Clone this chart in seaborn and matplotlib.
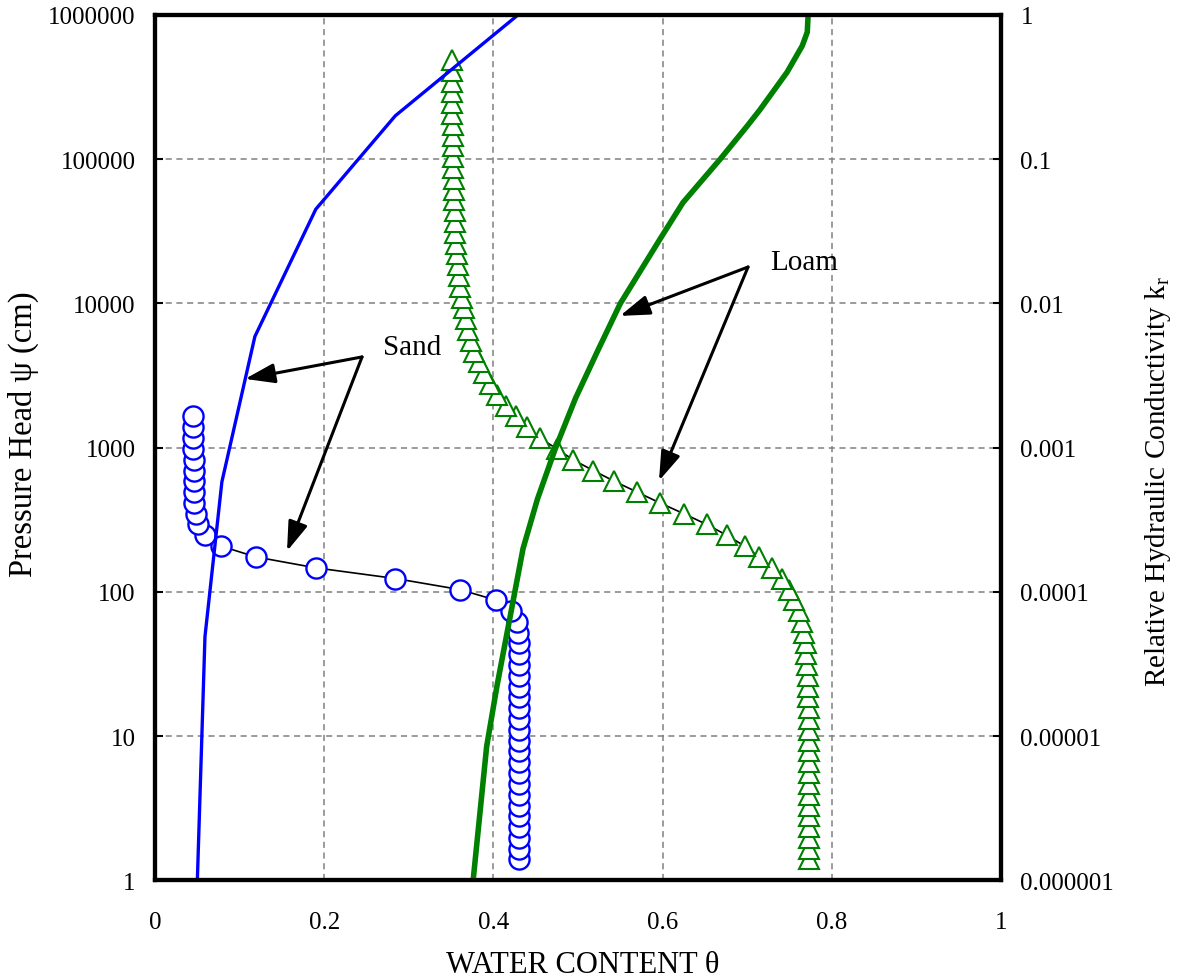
import matplotlib
matplotlib.use("Agg")
import matplotlib.pyplot as plt
from matplotlib.ticker import FixedLocator, FixedFormatter, NullLocator
import seaborn as sns

# -----------------------------
# Data
# -----------------------------

# pressure head steps (cm) shared by the measured retention points
psi_steps = [1.40, 1.66, 1.98, 2.35, 2.79, 3.31, 3.94, 4.68, 5.56, 6.60,
             7.85, 9.32, 11.1, 13.2, 15.6, 18.6, 22.1, 26.2, 31.2, 37.1,
             44.0, 52.3, 62.2, 73.9, 87.8, 104, 124, 147, 175, 208,
             247, 294, 349, 414, 492, 585, 695, 826, 982, 1166,
             1386, 1647, 1956, 2325, 2762, 3282, 3900, 4634, 5507, 6543,
             7775, 9239, 10980, 13050, 15500, 18420, 21890, 26000, 30900, 36720,
             43630, 51840, 61600, 73200, 86980, 103300, 122800, 145900, 173400, 206000,
             244800, 290900, 345600, 410700, 488000]

# sand retention (circles), one value per step, first 42 steps
theta_sand = [0.430, 0.430, 0.430, 0.430, 0.430, 0.430, 0.430, 0.430, 0.430, 0.430,
              0.430, 0.430, 0.430, 0.430, 0.430, 0.430, 0.430, 0.430, 0.430, 0.430,
              0.430, 0.429, 0.428, 0.421, 0.403, 0.360, 0.284, 0.190, 0.119, 0.078,
              0.059, 0.051, 0.048, 0.046, 0.046, 0.0455, 0.0455, 0.0455, 0.045, 0.045,
              0.045, 0.045]

# loam retention (triangles), all 75 steps
theta_loam = [0.773, 0.773, 0.773, 0.773, 0.773, 0.773, 0.773, 0.773, 0.773, 0.773,
              0.773, 0.773, 0.773, 0.773, 0.773, 0.772, 0.772, 0.772, 0.771, 0.770,
              0.769, 0.767, 0.765, 0.761, 0.755, 0.749, 0.741, 0.729, 0.714, 0.697,
              0.676, 0.652, 0.625, 0.597, 0.570, 0.543, 0.518, 0.494, 0.475, 0.455,
              0.440, 0.427, 0.415, 0.404, 0.396, 0.389, 0.383, 0.377, 0.374, 0.370,
              0.368, 0.365, 0.363, 0.361, 0.359, 0.358, 0.357, 0.356, 0.355, 0.354,
              0.354, 0.353, 0.353, 0.353, 0.352, 0.352, 0.352, 0.352, 0.352, 0.351,
              0.351, 0.351, 0.351, 0.351, 0.351]

# relative hydraulic conductivity curves (right axis)
theta_kr_sand = [0.050, 0.059, 0.079, 0.118, 0.190, 0.284, 0.429]
kr_sand = [1.0e-6, 4.9e-5, 5.8e-4, 5.9e-3, 4.5e-2, 0.20, 1.0]

theta_kr_loam = [0.376, 0.392, 0.404, 0.423, 0.435, 0.452, 0.473, 0.497, 0.524, 0.550,
                 0.570, 0.597, 0.624, 0.668, 0.700, 0.715, 0.747, 0.765, 0.771, 0.772]
kr_loam = [1.0e-6, 8.5e-6, 2.2e-5, 8.5e-5, 2.0e-4, 4.4e-4, 9.8e-4, 2.2e-3, 4.8e-3, 1.0e-2,
           1.55e-2, 2.8e-2, 5.0e-2, 0.10, 0.17, 0.22, 0.40, 0.61, 0.76, 1.0]

x_ticks = [0, 0.2, 0.4, 0.6, 0.8, 1]
x_labels = ["0", "0.2", "0.4", "0.6", "0.8", "1"]
psi_ticks = [1, 10, 100, 1000, 10000, 100000, 1000000]
psi_labels = ["1", "10", "100", "1000", "10000", "100000", "1000000"]
kr_ticks = [1e-6, 1e-5, 1e-4, 1e-3, 1e-2, 1e-1, 1]
kr_labels = ["0.000001", "0.00001", "0.0001", "0.001", "0.01", "0.1", "1"]

# -----------------------------
# Style
# -----------------------------

sns.set_theme(style="white")
plt.rcParams["font.family"] = ["Liberation Serif", "DejaVu Serif"]
plt.rcParams["mathtext.fontset"] = "custom"
plt.rcParams["mathtext.rm"] = "Liberation Serif"
plt.rcParams["mathtext.it"] = "Liberation Serif:italic"
plt.rcParams["text.color"] = "black"

BLUE = "#0000FF"
GREEN = "#008000"
TICK_FS = 18

fig = plt.figure(figsize=(11.8, 9.79), dpi=100)
ax = fig.add_axes([0.1314, 0.0996, 0.7169, 0.8841])

# measured retention points, thin black line through white markers
n_sand = len(theta_sand)
sns.lineplot(x=theta_sand, y=psi_steps[:n_sand], sort=False, estimator=None,
             color="black", lw=1.2, marker="o", markersize=14.5,
             markerfacecolor="white", markeredgecolor=BLUE, markeredgewidth=1.7,
             ax=ax, zorder=3)
sns.lineplot(x=theta_loam, y=psi_steps[:len(theta_loam)], sort=False, estimator=None,
             color="black", lw=1.2, marker="^", markersize=14,
             markerfacecolor="white", markeredgecolor=GREEN, markeredgewidth=1.5,
             ax=ax, zorder=3)

ax.set_yscale("log")
ax.set_xlim(0, 1)
ax.set_ylim(1, 1e6)
ax.xaxis.set_major_locator(FixedLocator(x_ticks))
ax.xaxis.set_major_formatter(FixedFormatter(x_labels))
ax.yaxis.set_major_locator(FixedLocator(psi_ticks))
ax.yaxis.set_major_formatter(FixedFormatter(psi_labels))
ax.yaxis.set_minor_locator(NullLocator())
ax.set_axisbelow(True)
ax.grid(True, which="major", color="#808080", linestyle=(0, (4, 3)), linewidth=1.1)
ax.tick_params(axis="both", which="major", direction="in", length=6, width=1.5,
               labelsize=TICK_FS, color="black", labelcolor="black")
ax.tick_params(axis="x", pad=22)
ax.tick_params(axis="y", pad=14)
ax.set_xlabel("WATER CONTENT θ", fontsize=22, color="black")
ax.set_ylabel("Pressure Head ψ (cm)", fontsize=23.5, color="black")
ax.xaxis.set_label_coords(0.506, -0.080)
ax.yaxis.set_label_coords(-0.137, 0.517)

# conductivity curves on the right axis
ax2 = ax.twinx()
sns.lineplot(x=theta_kr_sand, y=kr_sand, sort=False, estimator=None,
             color=BLUE, lw=2.4, ax=ax2)
sns.lineplot(x=theta_kr_loam, y=kr_loam, sort=False, estimator=None,
             color=GREEN, lw=4.0, ax=ax2)
ax2.set_yscale("log")
ax2.set_ylim(1e-6, 1)
ax2.set_xlim(0, 1)
ax2.yaxis.set_major_locator(FixedLocator(kr_ticks))
ax2.yaxis.set_major_formatter(FixedFormatter(kr_labels))
ax2.yaxis.set_minor_locator(NullLocator())
ax2.tick_params(axis="y", which="major", direction="in", length=6, width=1.5,
                labelsize=TICK_FS, pad=14, color="black", labelcolor="black")
ax2.set_ylabel(r"Relative Hydraulic Conductivity k$_\mathregular{r}$",
               fontsize=21, color="black")
ax2.yaxis.set_label_coords(1.168, 0.462)

for a in (ax, ax2):
    for sp in a.spines.values():
        sp.set_color("black")
        sp.set_linewidth(3)

# annotations
arrow = dict(arrowstyle="-|>,head_length=0.9,head_width=0.3", color="black",
             lw=2.2, shrinkA=0, shrinkB=0, mutation_scale=20)
for head in [(0.1064, 3.0e-3), (0.156, 1.92e-4)]:
    ax2.annotate("", xy=head, xytext=(0.2447, 4.26e-3), arrowprops=arrow)
ax2.text(0.2695, 5.0e-3, "Sand", fontsize=21, va="center", ha="left", color="black")
for head in [(0.5496, 8.2e-3), (0.5957, 5.9e-4)]:
    ax2.annotate("", xy=head, xytext=(0.701, 1.79e-2), arrowprops=arrow)
ax2.text(0.727, 1.94e-2, "Loam", fontsize=21, va="center", ha="left", color="black")

fig.savefig("out.png", dpi=100, facecolor="white")
